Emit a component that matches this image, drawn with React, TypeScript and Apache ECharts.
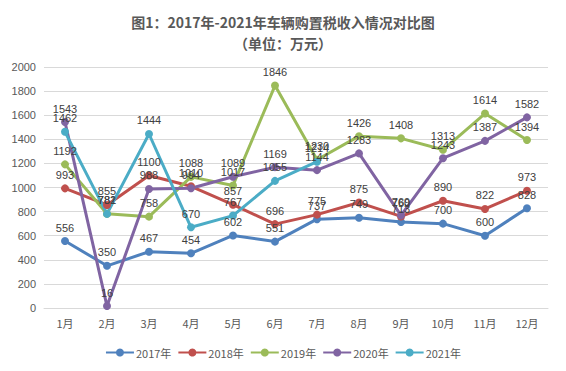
import React, { useEffect, useRef } from "react";
import * as echarts from "echarts";

const months = ["1月", "2月", "3月", "4月", "5月", "6月", "7月", "8月", "9月", "10月", "11月", "12月"];
const y2017 = [556, 350, 467, 454, 602, 551, 737, 749, 713, 700, 600, 828];
const y2018 = [993, 855, 1100, 1010, 857, 696, 775, 875, 760, 890, 822, 973];
const y2019 = [1192, 782, 758, 1088, 1017, 1846, 1230, 1426, 1408, 1313, 1614, 1394];
const y2020 = [1543, 16, 988, 994, 1089, 1169, 1144, 1283, 769, 1243, 1387, 1582];
const y2021 = [1462, 781, 1444, 670, 767, 1055, 1214];
const seriesNames = ["2017年", "2018年", "2019年", "2020年", "2021年"];
const colors = ["#4F81BD", "#C0504D", "#9BBB59", "#8064A2", "#4BACC6"];

export default function App() {
  const ref = useRef<HTMLDivElement>(null);
  useEffect(() => {
    const chart = echarts.init(ref.current!, null, { renderer: "svg" });
    const data = [y2017, y2018, y2019, y2020, y2021];
    chart.setOption({
      animation: false,
      backgroundColor: "#fff",
      color: colors,
      title: {
        text: "图1：2017年-2021年车辆购置税收入情况对比图\n（单位：万元）",
        left: "center",
        top: 6,
        textStyle: {
          fontFamily: "Noto Sans CJK SC",
          fontSize: 14,
          fontWeight: "bold",
          color: "#595959",
          lineHeight: 21,
        },
      },
      graphic: [
        {
          type: "rect",
          shape: { x: 0.5, y: 0.5, width: 562, height: 367 },
          style: { fill: "none", stroke: "#D9D9D9", lineWidth: 1 },
          silent: true,
        },
      ],
      legend: {
        bottom: 8,
        left: "center",
        itemWidth: 28,
        itemHeight: 10,
        itemGap: 6,
        textStyle: { fontFamily: "Noto Sans CJK SC", fontSize: 11, color: "#595959", padding: [0, 0, 0, -3] },
        data: seriesNames,
      },
      grid: { left: 44, right: 18, top: 67, bottom: 63 },
      xAxis: {
        type: "category",
        data: months,
        boundaryGap: true,
        axisLine: { lineStyle: { color: "#D9D9D9" } },
        axisTick: { show: false },
        axisLabel: { fontFamily: "Noto Sans CJK SC", fontSize: 11, color: "#595959", margin: 9 },
      },
      yAxis: {
        type: "value",
        min: 0,
        max: 2000,
        interval: 200,
        axisLine: { show: false },
        axisTick: { show: false },
        splitLine: { lineStyle: { color: "#D9D9D9" } },
        axisLabel: {
          fontFamily: "Liberation Sans",
          fontSize: 11,
          color: "#595959",
          margin: 8,
          formatter: (v: number) => String(v),
        },
      },
      series: data.map((d, i) => ({
        name: seriesNames[i],
        type: "line",
        data: d,
        symbol: "circle",
        symbolSize: 8,
        lineStyle: { width: 3, color: colors[i] },
        itemStyle: { color: colors[i] },
        label: {
          show: true,
          position: "top",
          distance: 4,
          fontFamily: "Liberation Sans",
          fontSize: 11,
          color: "#404040",
        },
      })),
    });
    return () => chart.dispose();
  }, []);
  return <div ref={ref} style={{ width: 566, height: 371, margin: -8 }} />;
}
